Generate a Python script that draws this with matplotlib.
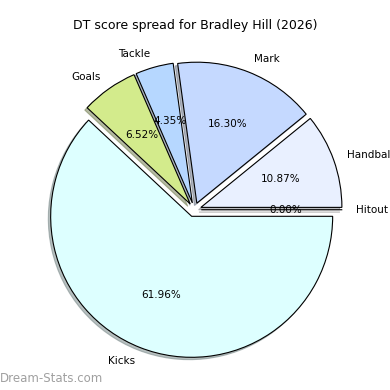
import matplotlib
matplotlib.use("Agg")
import matplotlib.pyplot as plt

labels = ["Hitout", "Handball", "Mark", "Tackle", "Goals", "Kicks"]
counts = [0, 10, 15, 4, 6, 57]
colors = ["#e0e0e0", "#e9f0ff", "#c5d9ff", "#b6d7ff", "#d3eb8c", "#ddffff"]
explode = [0.05, 0.05, 0.05, 0.05, 0.05, 0.05]

fig = plt.figure(figsize=(3.9, 3.9), dpi=100)
ax = fig.add_axes([18 / 390, 4 / 390, 352.5 / 390, 352.5 / 390])

wedges, texts, autotexts = ax.pie(counts, labels=labels, colors=colors, explode=explode,
                                  autopct="%1.2f%%", startangle=0,
                                  shadow={"ox": -0.012, "oy": -0.012, "shade": 0.5},
                                  wedgeprops={"edgecolor": "black", "linewidth": 0.8},
                                  textprops={"fontsize": 7.5})
ax.set_xlim(-1.25, 1.25)
ax.set_ylim(-1.25, 1.25)
ax.set_aspect("equal")

fig.text(0.5, 1 - 25 / 390, "DT score spread for Bradley Hill (2026)", ha="center", va="center", fontsize=9)
fig.text(0.0, 1 - 379 / 390, "Dream-Stats.com", ha="left", va="center", fontsize=8.5,
         color="#a0a0a0")

fig.savefig("out.png", dpi=100)
